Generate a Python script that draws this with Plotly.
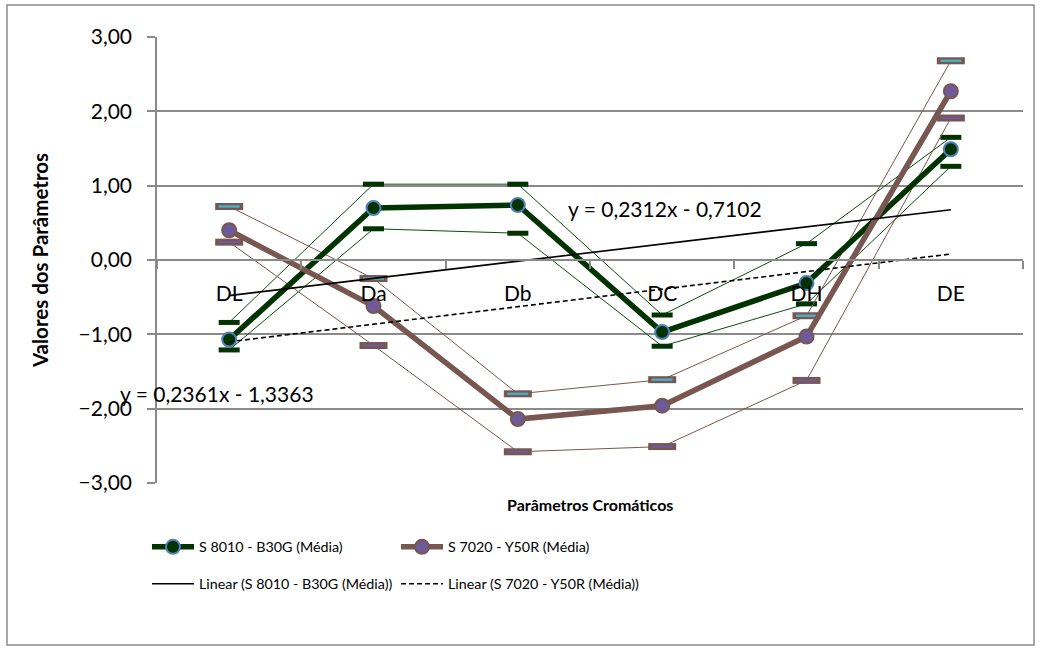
import plotly.graph_objects as go

# Chromatic parameters on the x axis
categories = ["DL", "Da", "Db", "DC", "DH", "DE"]

# S 8010 - B30G: mean and upper / lower limits
green_mean = [-1.07, 0.70, 0.74, -0.97, -0.31, 1.49]
green_upper = [-0.84, 1.02, 1.02, -0.74, 0.22, 1.65]
green_lower = [-1.21, 0.42, 0.36, -1.16, -0.59, 1.26]

# S 7020 - Y50R: mean and upper / lower limits
purple_mean = [0.40, -0.62, -2.14, -1.96, -1.03, 2.27]
purple_upper = [0.72, -0.25, -1.80, -1.61, -0.75, 2.68]
purple_lower = [0.24, -1.15, -2.58, -2.51, -1.62, 1.91]

# Linear trendline coefficients (x = category index starting at 1)
green_slope, green_intercept = 0.2312, -0.7102
purple_slope, purple_intercept = 0.2361, -1.3363

green_name = "S 8010 - B30G (Média)"
purple_name = "S 7020 - Y50R (Média)"

FONT = "Lato"
GRID = "#8a8a8a"
DARK_GREEN = "#003300"
GREEN_THIN = "#0f4a0f"
BROWN = "#77574f"
PURPLE = "#6e5a98"
TEAL = "#4bacc6"
BLUE_EDGE = "#4f81bd"

W, H = 1040, 649
ML, MR, MT, MB = 157, 17, 37, 166
PW, PH = W - ML - MR, H - MT - MB


def px_x(x):
    return (x - ML) / PW


def px_y(y):
    return (MT + PH - y) / PH


def trend(slope, intercept):
    return [slope * (i + 1) + intercept for i in range(len(categories))]


fig = go.Figure()

# thin limit lines of the green series
for vals in (green_upper, green_lower):
    fig.add_trace(go.Scatter(
        x=categories, y=vals, mode="lines+markers", showlegend=False,
        line=dict(color=GREEN_THIN, width=1),
        marker=dict(symbol="line-ew", size=15,
                    line=dict(color=DARK_GREEN, width=5)),
        hoverinfo="skip"))

# thin limit lines of the brown/purple series: brown bar with coloured core
for vals, core in ((purple_upper, TEAL), (purple_lower, PURPLE)):
    fig.add_trace(go.Scatter(
        x=categories, y=vals, mode="lines+markers", showlegend=False,
        line=dict(color=BROWN, width=1),
        marker=dict(symbol="line-ew", size=20,
                    line=dict(color=BROWN, width=7)),
        hoverinfo="skip"))
    fig.add_trace(go.Scatter(
        x=categories, y=vals, mode="markers", showlegend=False,
        marker=dict(symbol="line-ew", size=15,
                    line=dict(color=core, width=2.5)),
        hoverinfo="skip"))

# mean series
fig.add_trace(go.Scatter(
    x=categories, y=green_mean, mode="lines+markers", name=green_name,
    legend="legend",
    line=dict(color=DARK_GREEN, width=5.5),
    marker=dict(symbol="circle", size=14, color=DARK_GREEN,
                line=dict(color=BLUE_EDGE, width=2))))
fig.add_trace(go.Scatter(
    x=categories, y=purple_mean, mode="lines+markers", name=purple_name,
    legend="legend",
    line=dict(color=BROWN, width=5.5),
    marker=dict(symbol="circle", size=14, color=PURPLE,
                line=dict(color=BROWN, width=2))))

# linear trendlines
fig.add_trace(go.Scatter(
    x=categories, y=trend(green_slope, green_intercept), mode="lines",
    name=f"Linear ({green_name})", legend="legend2",
    line=dict(color="black", width=1.6)))
fig.add_trace(go.Scatter(
    x=categories, y=trend(purple_slope, purple_intercept), mode="lines",
    name=f"Linear ({purple_name})", legend="legend2",
    line=dict(color="black", width=1.6, dash="5px,3px")))


def eq_text(slope, intercept):
    sign = "-" if intercept < 0 else "+"
    return (f"y = {slope:.4f}x {sign} {abs(intercept):.4f}").replace(".", ",")


annotations = [
    dict(text=eq_text(green_slope, green_intercept), xref="paper", yref="paper",
         x=px_x(566), y=px_y(208), xanchor="left", yanchor="middle",
         showarrow=False, font=dict(family=FONT, size=21, color="black")),
    dict(text=eq_text(purple_slope, purple_intercept), xref="paper", yref="paper",
         x=px_x(118), y=px_y(393), xanchor="left", yanchor="middle",
         showarrow=False, font=dict(family=FONT, size=21, color="black")),
    dict(text="Parâmetros Cromáticos", xref="paper", yref="paper",
         x=0.5, y=px_y(505), xanchor="center", yanchor="middle",
         showarrow=False,
         font=dict(family=FONT, size=16, color="black", weight="bold")),
]

legend_common = dict(
    orientation="h", xanchor="left", yanchor="middle",
    font=dict(family=FONT, size=14.3, color="black"),
    bgcolor="rgba(0,0,0,0)", itemwidth=42,
    entrywidth=192, entrywidthmode="pixels",
    traceorder="normal", tracegroupgap=0,
)

fig.update_layout(
    width=W, height=H,
    margin=dict(l=ML, r=MR, t=MT, b=MB),
    paper_bgcolor="white", plot_bgcolor="white",
    separators=",.",
    font=dict(family=FONT, color="black"),
    showlegend=True,
    legend=dict(x=px_x(147), y=px_y(547), **legend_common),
    legend2=dict(x=px_x(147), y=px_y(584), **legend_common),
    annotations=annotations,
    shapes=[dict(type="rect", xref="paper", yref="paper",
                 x0=px_x(7), x1=px_x(1034), y0=px_y(645), y1=px_y(5),
                 line=dict(color=GRID, width=1.5), layer="below")],
    xaxis=dict(
        type="category", categoryarray=categories, categoryorder="array",
        range=[-0.5, len(categories) - 0.5],
        anchor="free", position=0.5,
        showline=True, linecolor=GRID, linewidth=1.5,
        ticks="outside", ticklen=8, tickcolor=GRID, tickwidth=1.5,
        tickson="boundaries", ticklabelstandoff=15,
        showgrid=False, zeroline=False,
        tickfont=dict(family=FONT, size=21, color="black"),
    ),
    yaxis=dict(
        range=[-3, 3], tickvals=[-3, -2, -1, 0, 1, 2, 3], tickformat=".2f",
        showgrid=True, gridcolor=GRID, gridwidth=1.5,
        showline=True, linecolor=GRID, linewidth=1.5,
        ticks="outside", ticklen=8, tickcolor=GRID, tickwidth=1.5,
        ticklabelstandoff=11, zeroline=False,
        tickfont=dict(family=FONT, size=21, color="black"),
        title=dict(text="Valores dos Parâmetros", standoff=24,
                   font=dict(family=FONT, size=20.5, color="black", weight="bold")),
    ),
)

fig.write_html("out.html")
